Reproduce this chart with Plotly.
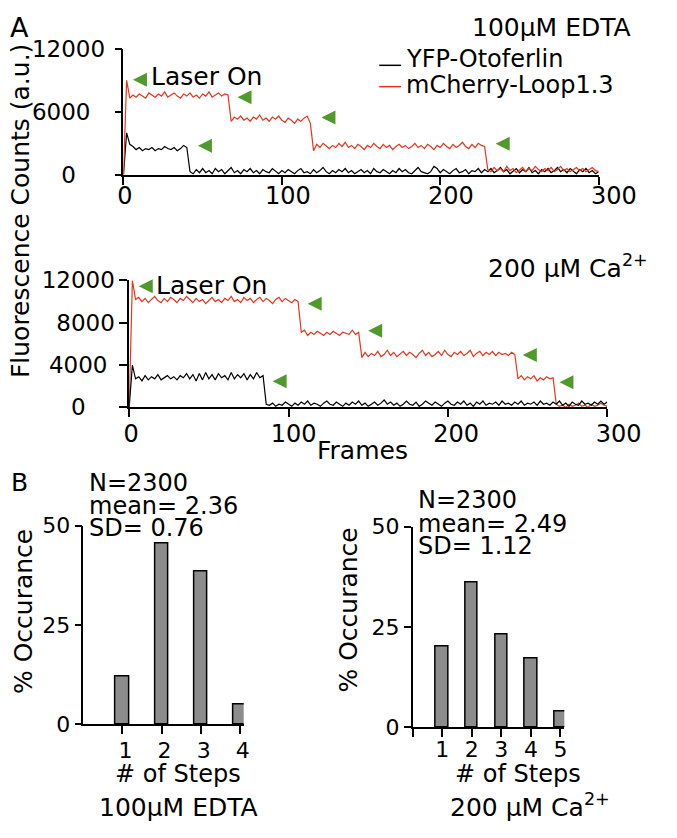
import plotly.graph_objects as go

W, H = 677, 838
FONT = "DejaVu Sans"
RED = "#e8341c"
GREEN = "#4f9a2a"
BAR_GRAY = "#8c8c8c"
NB = "\u00a0"

# ---------------- data ----------------
frames = list(range(0, 301, 2))

edta_mcherry = [
    0, 9000, 7300, 7600, 7400, 7700, 7500, 7300, 7800, 7600,
    7400, 7700, 7500, 7900, 7400, 7600, 7800, 7500, 7300, 7700,
    7500, 7800, 7400, 7600, 7300, 7700, 7500, 7900, 7400, 7600,
    7800, 7500, 7700, 7600, 5100, 5500, 5300, 5600, 5200, 5400,
    5100, 5500, 5300, 5700, 5200, 5400, 5100, 5500, 5300, 5600,
    5200, 5000, 5400, 5200, 4900, 5300, 5100, 5400, 5600, 4900,
    2300, 2900, 2600, 3000, 2700, 2500, 2800, 2600, 3000, 2700,
    3100, 2600, 2800, 2500, 2900, 2700, 2400, 2800, 2600, 3000,
    2700, 2500, 2900, 2600, 2800, 2400, 2700, 2900, 2600, 2800,
    2500, 2700, 3000, 2600, 2800, 2500, 2900, 2700, 2400, 2800,
    2600, 3000, 2700, 2500, 2900, 2600, 2800, 3100, 2700, 2500,
    2900, 2600, 3000, 2800, 2700, 500, 300, 700, 400, 600,
    300, 800, 400, 600, 200, 500, 700, 300, 600, 400,
    800, 500, 300, 600, 400, 700, 300, 500, 800, 400,
    600, 300, 500, 700, 400, 600, 300, 500, 700, 400,
    300,
]

edta_yfp = [
    0, 4000, 2900, 2700, 2400, 2600, 2300, 2500, 2400, 2600,
    2300, 2500, 2400, 2700, 2500, 2400, 2600, 2300, 2500, 2800,
    2600, 300, 100, 500, 200, 600, 200, 400, 100, 600,
    300, 500, 100, 400, 700, 200, 400, 100, 500, 300,
    600, 200, 400, 100, 500, 300, 200, 600, 300, 100,
    400, 200, 500, 300, 100, 400, 600, 200, 300, 100,
    500, 200, 400, 700, 300, 100, 400, 200, 500, 300,
    600, 200, 400, 100, 300, 500, 200, 400, 100, 600,
    300, 200, 500, 300, 100, 400, 200, 600, 300, 500,
    200, 100, 400, 700, 300, 200, 100, 300, 800, 600,
    200, 500, 300, 100, 400, 600, 200, 300, 500, 100,
    400, 300, 600, 200, 500, 300, 600, 200, 400, 700,
    300, 500, 100, 400, 600, 200, 500, 300, 700, 200,
    400, 100, 500, 300, 600, 200, 400, 700, 300, 500,
    200, 600, 300, 100, 500, 300, 600, 200, 400, 100,
    300,
]

ca_mcherry = [
    0, 12000, 10200, 10400, 10000, 10300, 9900, 10200, 10500, 10100,
    9900, 10300, 10000, 10400, 10200, 9900, 10300, 10100, 10500, 10200,
    9900, 10300, 10000, 10200, 9800, 10100, 10400, 10000, 10200, 9900,
    10300, 10100, 10500, 10000, 10200, 9900, 10400, 10100, 10300, 9900,
    10200, 10400, 10000, 10300, 10100, 9800, 10200, 10400, 10000, 10300,
    10100, 9900, 10200, 10000, 7100, 7300, 6800, 7100, 6900, 7200,
    7000, 6800, 7100, 6900, 7200, 7000, 6800, 7100, 7000, 6900,
    7300, 6900, 7100, 4700, 5200, 4800, 5100, 4900, 5300, 4800,
    5000, 5400, 4900, 5200, 4800, 5100, 5300, 4900, 5200, 5000,
    4700, 5100, 5400, 4900, 5200, 4800, 5000, 5300, 4900, 5400,
    5000, 4800, 5200, 5000, 5300, 4900, 5100, 5400, 4800, 5100,
    5300, 4900, 5200, 5000, 5300, 4900, 5200, 5000, 5100, 4900,
    5200, 5000, 2700, 3000, 2600, 2900, 2700, 3000, 2500, 2800,
    2600, 2900, 2700, 2800, 300, 100, 200, 0, 300, 100,
    200, 400, 100, 200, 0, 300, 100, 200, 400, 200,
    100,
]

ca_yfp = [
    0, 4000, 2700, 2900, 2500, 3000, 2600, 2900, 2700, 3100,
    2600, 2800, 3000, 2700, 2900, 2600, 3000, 2800, 3200, 2700,
    3100, 2500, 3200, 2600, 3300, 2700, 3100, 2600, 3200, 2800,
    3000, 2600, 3300, 2700, 3100, 2800, 3200, 2600, 3100, 2700,
    3300, 2800, 3000, 300, 200, 400, 100, 300, 200, 500,
    300, 100, 400, 200, 500, 300, 600, 200, 400, 300,
    100, 400, 600, 300, 200, 500, 300, 100, 400, 200,
    500, 300, 600, 200, 400, 100, 300, 500, 200, 400,
    700, 300, 500, 200, 400, 100, 300, 600, 300, 200,
    500, 100, 300, 600, 400, 200, 500, 300, 100, 400,
    600, 300, 200, 500, 300, 600, 200, 400, 100, 500,
    300, 600, 200, 400, 300, 500, 200, 600, 300, 400,
    200, 500, 300, 600, 200, 400, 300, 500, 200, 600,
    300, 400, 200, 500, 300, 600, 200, 400, 100, 500,
    300, 200, 600, 300, 400, 200, 500, 300, 600, 300,
    500,
]

# bleaching-step markers (frame, counts)
edta_arrow_frames = [6, 72, 125, 235, 47]
edta_arrow_counts = [9050, 7380, 5450, 2950, 2770]
ca_arrow_frames = [6, 112, 150, 247, 270, 90]
ca_arrow_counts = [11450, 9800, 7240, 4950, 2380, 2470]

steps_edta = [1, 2, 3, 4]
occ_edta = [12, 45.5, 38.5, 5]
steps_ca = [1, 2, 3, 4, 5]
occ_ca = [20, 36, 23, 17, 4]

frame_ticks = [0, 100, 200, 300]
edta_count_ticks = [0, 6000, 12000]
edta_count_labels = ["0" + NB * 4, "6000" + NB * 2, "12000"]
ca_count_ticks = [0, 4000, 8000, 12000]
ca_count_labels = ["0" + NB * 4, "4000" + NB, "8000", "12000"]
occ_ticks = [0, 25, 50]
ca_step_ticks = [0, 1, 2, 3, 4, 5]
ca_step_labels = ["", "1", "2", "3", "4", "5"]

# ---------------- helpers ----------------
def fx(p):
    return p / W


def fy(p):
    return 1 - p / H


def axis_style(**kw):
    d = dict(
        showline=True, linecolor="black", linewidth=1.5,
        ticks="outside", ticklen=7, tickwidth=1.5, tickcolor="black",
        showgrid=False, zeroline=False, fixedrange=True, tickformat="d",
        tickfont=dict(family=FONT, size=23, color="black"),
    )
    d.update(kw)
    return d


def label_axis(**kw):
    # axis that only carries tick labels (no line, invisible ticks)
    d = dict(
        showline=False, ticks="outside", ticklen=8, tickwidth=1,
        tickcolor="rgba(0,0,0,0)", showgrid=False, zeroline=False,
        fixedrange=True, tickformat="d",
        tickfont=dict(family=FONT, size=24, color="black"),
    )
    d.update(kw)
    return d


HIST_TICKFONT = dict(family=FONT, size=22, color="black")

fig = go.Figure()

# ---- panel A top (EDTA) ----
fig.add_trace(go.Scatter(x=frames, y=edta_yfp, mode="lines",
                         line=dict(color="black", width=1.2),
                         xaxis="x", yaxis="y", showlegend=False))
fig.add_trace(go.Scatter(x=frames, y=edta_mcherry, mode="lines",
                         line=dict(color=RED, width=1.2),
                         xaxis="x", yaxis="y", showlegend=False))
fig.add_trace(go.Scatter(x=edta_arrow_frames, y=edta_arrow_counts, mode="markers",
                         marker=dict(symbol="arrow-left", size=14, color=GREEN,
                                     line=dict(width=0)),
                         cliponaxis=False, xaxis="x", yaxis="y", showlegend=False))

# ---- panel A bottom (Ca) ----
fig.add_trace(go.Scatter(x=frames, y=ca_mcherry, mode="lines",
                         line=dict(color=RED, width=1.2),
                         xaxis="x2", yaxis="y2", showlegend=False))
fig.add_trace(go.Scatter(x=frames, y=ca_yfp, mode="lines",
                         line=dict(color="black", width=1.2),
                         xaxis="x2", yaxis="y2", showlegend=False))
fig.add_trace(go.Scatter(x=ca_arrow_frames, y=ca_arrow_counts, mode="markers",
                         marker=dict(symbol="arrow-left", size=14, color=GREEN,
                                     line=dict(width=0)),
                         cliponaxis=False, xaxis="x2", yaxis="y2", showlegend=False))

# empty traces registering the label-only frame axes
fig.add_trace(go.Scatter(x=frame_ticks, y=[None] * len(frame_ticks), mode="markers",
                         xaxis="x5", yaxis="y", showlegend=False, hoverinfo="skip"))
fig.add_trace(go.Scatter(x=frame_ticks, y=[None] * len(frame_ticks), mode="markers",
                         xaxis="x6", yaxis="y2", showlegend=False, hoverinfo="skip"))

# ---- panel B histograms ----
fig.add_trace(go.Bar(x=steps_edta, y=occ_edta, width=0.34,
                     marker=dict(color=BAR_GRAY, line=dict(color="black", width=1.5)),
                     xaxis="x3", yaxis="y3", showlegend=False))
fig.add_trace(go.Bar(x=steps_ca, y=occ_ca, width=0.42,
                     marker=dict(color=BAR_GRAY, line=dict(color="black", width=1.5)),
                     xaxis="x4", yaxis="y4", showlegend=False))

fig.update_layout(
    width=W, height=H, autosize=False,
    margin=dict(l=0, r=0, t=0, b=0),
    paper_bgcolor="white", plot_bgcolor="rgba(0,0,0,0)",
    font=dict(family=FONT, color="black"),
    xaxis=axis_style(domain=[fx(121), fx(619)], range=[0, 300], anchor="y",
                     tickvals=frame_ticks, ticklen=8, showticklabels=False),
    yaxis=axis_style(domain=[fy(167), fy(37)], range=[0, 12000], anchor="x",
                     tickvals=edta_count_ticks, ticktext=edta_count_labels,
                     ticklabelstandoff=5),
    xaxis5=label_axis(domain=[fx(122.5), fx(635)], range=[0, 300], anchor="y",
                      tickvals=frame_ticks, ticklabelstandoff=-9),
    xaxis2=axis_style(domain=[fx(127), fx(628)], range=[0, 300], anchor="y2",
                      tickvals=frame_ticks, ticklen=8, showticklabels=False),
    yaxis2=axis_style(domain=[fy(407), fy(276)], range=[0, 12000], anchor="x2",
                      tickvals=ca_count_ticks, ticktext=ca_count_labels, ticklen=8),
    xaxis6=label_axis(domain=[fx(129), fx(640)], range=[0, 300], anchor="y2",
                      tickvals=frame_ticks, ticklabelstandoff=-3),
    xaxis3=axis_style(domain=[fx(79), fx(247)], range=[0, 4.1], anchor="y3",
                      tickvals=steps_edta, ticklen=8, tickfont=HIST_TICKFONT,
                      ticklabelstandoff=-2, ticklabelshift=3),
    yaxis3=axis_style(domain=[fy(734), fy(529)], range=[0, 50], anchor="x3",
                      tickvals=occ_ticks, tickfont=HIST_TICKFONT),
    xaxis4=axis_style(domain=[fx(424), fx(583)], range=[0, 5.13], anchor="y4",
                      tickvals=ca_step_ticks, ticktext=ca_step_labels, ticklen=8,
                      tickfont=HIST_TICKFONT, ticklabelstandoff=-6),
    yaxis4=axis_style(domain=[fy(737), fy(530)], range=[0, 50], anchor="x4",
                      tickvals=occ_ticks, tickfont=HIST_TICKFONT),
    bargap=0,
)


def label(text, x, y, size=24, xanchor="left", yanchor="middle", angle=0):
    fig.add_annotation(text=text, x=fx(x), y=fy(y), xref="paper", yref="paper",
                       xanchor=xanchor, yanchor=yanchor, textangle=angle,
                       showarrow=False, borderpad=0,
                       font=dict(family=FONT, size=size, color="black"))


label("A", 1, 15, size=27)
label("B", 2, 485, size=25)
label("100µM EDTA", 654, 15, size=25, xanchor="right")
label("YFP-Otoferlin", 416, 47, size=24)
label("mCherry-Loop1.3", 416, 74, size=24)
label("Laser On", 149, 66, size=25)
label("Laser On", 154, 281, size=25)
label("200 µM Ca<sup>2+</sup>", 672, 262, size=25, xanchor="right")
label("Fluorescence Counts (a.u.)", 13, 204, size=25, xanchor="center", angle=-90)
label("Frames", 371, 452, size=25, xanchor="center")

label("N=2300", 84, 485, size=24)
label("mean= 2.36", 84, 509, size=24)
label("SD= 0.76", 84, 532, size=24)
label("N=2300", 429, 503, size=24)
label("mean= 2.49", 429, 527, size=24)
label("SD= 1.12", 429, 550, size=24)

label("% Occurance", 17, 618, size=25, xanchor="center", angle=-90)
label("% Occurance", 357, 616, size=25, xanchor="center", angle=-90)
label("# of Steps", 178, 785, size=24, xanchor="center")
label("# of Steps", 534, 785, size=24, xanchor="center")
label("100µM EDTA", 179, 820, size=25, xanchor="center")
label("200 µM Ca<sup>2+</sup>", 547, 818, size=25, xanchor="center")

# legend line samples
fig.add_shape(type="line", xref="paper", yref="paper",
              x0=fx(389), x1=fx(412), y0=fy(54), y1=fy(54),
              line=dict(color="black", width=1.5))
fig.add_shape(type="line", xref="paper", yref="paper",
              x0=fx(389), x1=fx(412), y0=fy(76), y1=fy(76),
              line=dict(color=RED, width=1.5))

fig.write_html("out.html",
               config={"displayModeBar": False},
               post_script="document.body.style.margin='0px';"
                           "document.body.style.overflow='hidden';")
